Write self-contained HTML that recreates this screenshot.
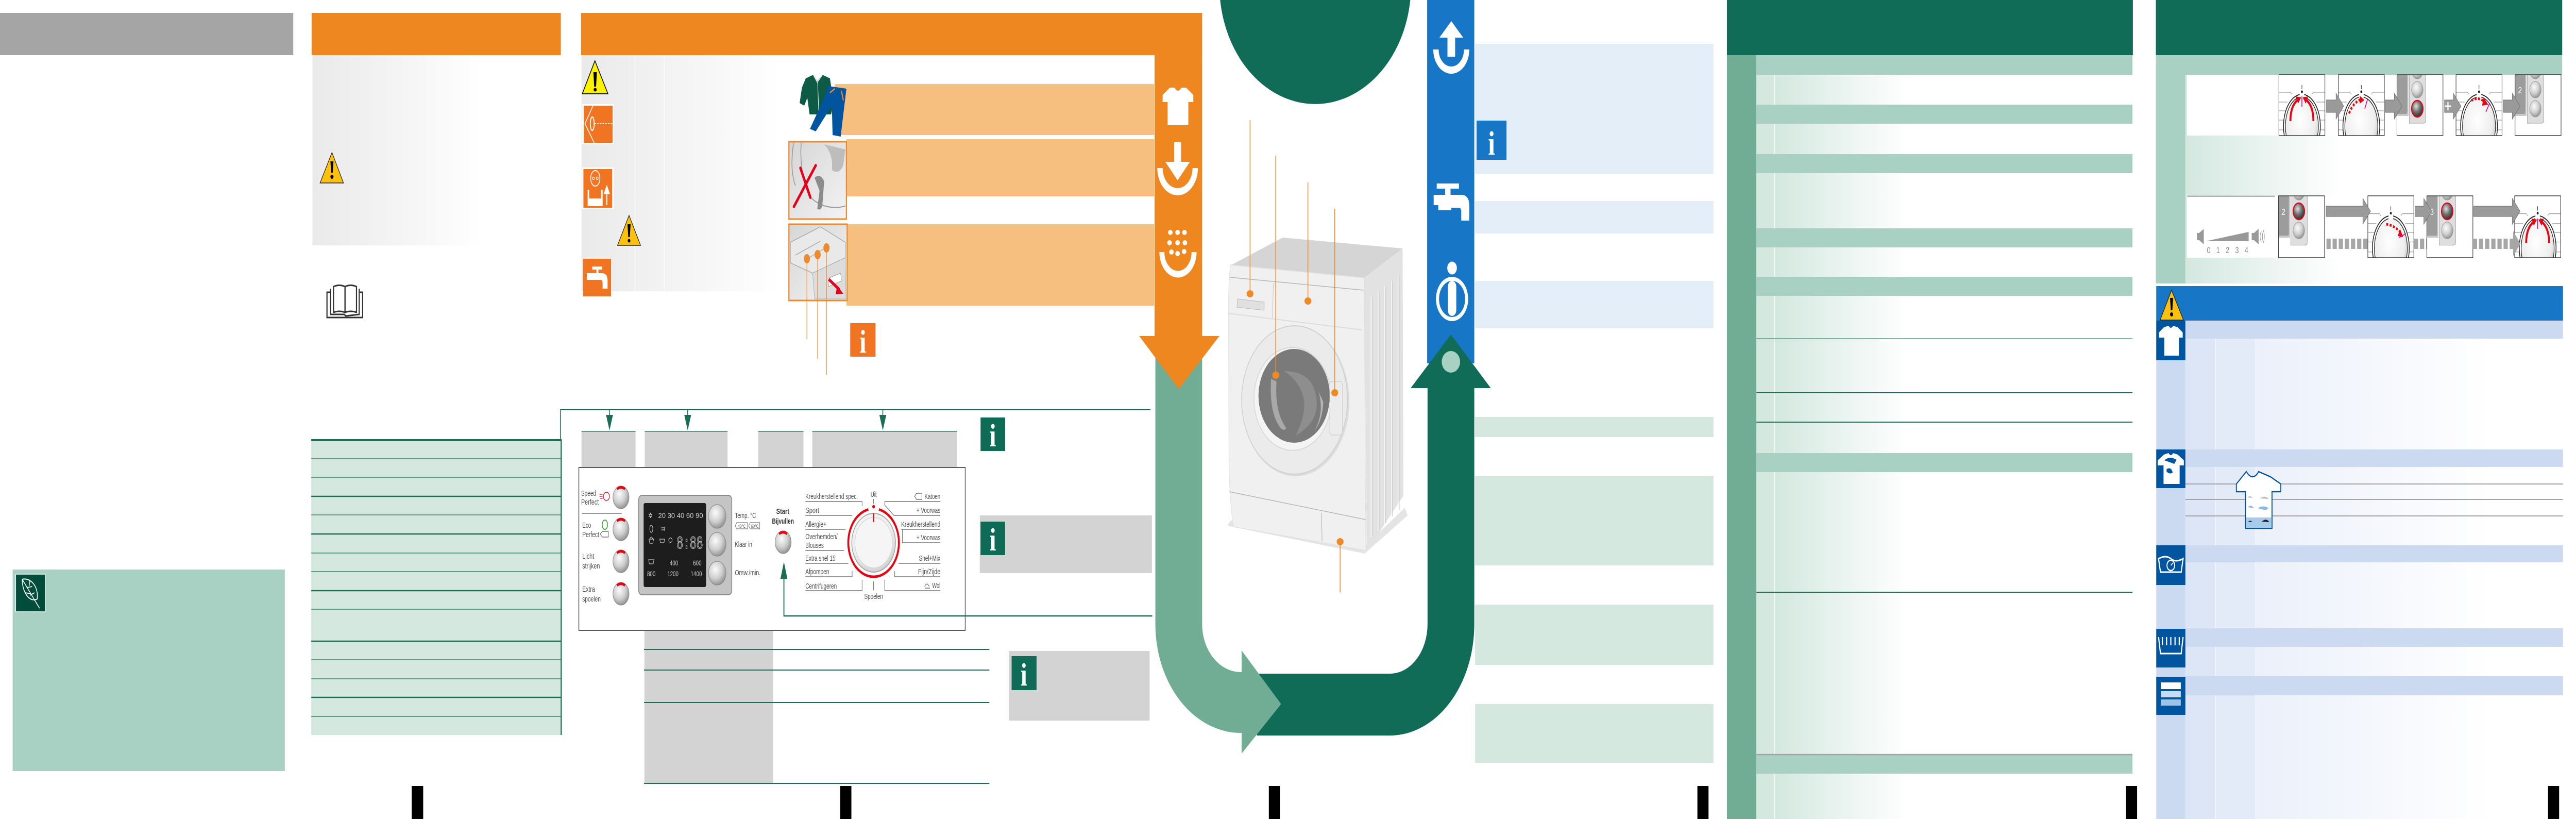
<!DOCTYPE html>
<html><head><meta charset="utf-8">
<style>
html,body{margin:0;padding:0;background:#fff;width:100%;height:100%;overflow:hidden}
svg{display:block;width:100vw;height:100vh;position:absolute;left:0;top:0}
.cp{font-family:"Liberation Sans",sans-serif;font-size:15px;fill:#4d4d4d}
.cpb{font-family:"Liberation Sans",sans-serif;font-size:15px;font-weight:bold;fill:#333}
.ld{font-family:"Liberation Sans",sans-serif;font-size:14px;fill:#cfcfcf}
.inf{font-family:"Liberation Serif",serif;font-weight:bold;fill:#fff}
</style></head>
<body>
<svg viewBox="0 0 6720 1589" preserveAspectRatio="none" xmlns="http://www.w3.org/2000/svg">
<defs>
 <linearGradient id="gGray" x1="0" x2="1" y1="0" y2="0">
  <stop offset="0" stop-color="#eaeaea"/><stop offset="0.35" stop-color="#f1f1f1"/><stop offset="0.7" stop-color="#f8f8f8"/><stop offset="1" stop-color="#ffffff"/>
 </linearGradient>
 <linearGradient id="gGreenFade" gradientUnits="userSpaceOnUse" x1="4630" x2="4980" y1="0" y2="0">
  <stop offset="0" stop-color="#d4e8e0"/><stop offset="1" stop-color="#ffffff"/>
 </linearGradient>
 <linearGradient id="gP7Fade" gradientUnits="userSpaceOnUse" x1="5701" x2="6110" y1="0" y2="0">
  <stop offset="0" stop-color="#d4e8e0"/><stop offset="1" stop-color="#ffffff"/>
 </linearGradient>
 <linearGradient id="gBlueFade" gradientUnits="userSpaceOnUse" x1="5884" x2="6500" y1="0" y2="0">
  <stop offset="0" stop-color="#ebf0fa"/><stop offset="1" stop-color="#ffffff"/>
 </linearGradient>
 <radialGradient id="gBtn" cx="0.4" cy="0.35" r="0.7">
  <stop offset="0" stop-color="#fbfbfb"/><stop offset="0.55" stop-color="#cfcfcf"/><stop offset="1" stop-color="#8a8a8a"/>
 </radialGradient>
 <radialGradient id="gBtnDark" cx="0.4" cy="0.35" r="0.7">
  <stop offset="0" stop-color="#e0e0e0"/><stop offset="0.5" stop-color="#707070"/><stop offset="1" stop-color="#2a2a2a"/>
 </radialGradient>
 <radialGradient id="gKnob" cx="0.45" cy="0.4" r="0.65">
  <stop offset="0" stop-color="#ffffff"/><stop offset="0.7" stop-color="#eeeeee"/><stop offset="1" stop-color="#c4c4c4"/>
 </radialGradient>
 <linearGradient id="gImg" x1="0" x2="1" y1="0" y2="1">
  <stop offset="0" stop-color="#d6d6d6"/><stop offset="1" stop-color="#f3f3f3"/>
 </linearGradient>
 <clipPath id="cbox"><rect x="0" y="0" width="120" height="118"/></clipPath>
 <g id="dialbase">
  <rect x="0" y="0" width="120" height="118" fill="#fff"/>
  <path d="M0,34 H30 L34,38 M0,53 H22 M0,70 H16 M0,88 H14 M0,107 H14 M120,34 H90 L86,38 M120,53 H98 M120,70 H104 M120,88 H106 M120,107 H106" stroke="#9a9a9a" stroke-width="1.2" fill="none"/>
  <g clip-path="url(#cbox)">
   <ellipse cx="60" cy="100" rx="48" ry="62" fill="#fff" stroke="#222" stroke-width="2"/>
   <ellipse cx="60" cy="100" rx="43" ry="57" fill="url(#gKnob)" stroke="#222" stroke-width="1.6"/>
  </g>
  <rect x="54" y="35" width="12" height="10" fill="#fff"/>
  <line x1="60" y1="20" x2="60" y2="28" stroke="#222" stroke-width="1.2"/>
  <circle cx="60" cy="33" r="2.6" fill="#222"/>
  <rect x="0" y="0" width="120" height="118" fill="none" stroke="#222" stroke-width="1.3"/>
 </g>
 <g id="btnbase">
  <rect x="0" y="0" width="120" height="118" fill="#fff"/>
  <g clip-path="url(#cbox)">
   <path d="M0,0 H30 V80 H0 Z" fill="#c8c8c8"/>
   <path d="M0,0 H27 V72 Q27,76 23,76 H0 Z" fill="#9c9c9c"/>
   <path d="M32,-2 H75 V88 Q75,94 69,94 H32 Z" fill="#dedede" stroke="#999" stroke-width="1"/>
   <ellipse cx="53" cy="-8" rx="15" ry="16" fill="url(#gBtn)" stroke="#999"/>
   <ellipse cx="53" cy="29" rx="15" ry="16" fill="url(#gBtn)" stroke="#999"/>
   <ellipse cx="53" cy="66" rx="15" ry="16" fill="url(#gBtn)" stroke="#999"/>
  </g>
  <rect x="0" y="0" width="120" height="118" fill="none" stroke="#222" stroke-width="1.3"/>
 </g>
 <g id="cpbtn">
  <ellipse cx="0" cy="0" rx="21" ry="22" fill="url(#gBtn)" stroke="#8a8a8a" stroke-width="1.2"/>
  <path d="M-12,-18 A21,22 0 0 1 12,-18 L9,-14 A16,16 0 0 0 -9,-14 Z" fill="#e30613"/>
 </g>
 <g id="cpbtn2">
  <ellipse cx="0" cy="0" rx="23" ry="23" fill="url(#gBtn)" stroke="#8a8a8a" stroke-width="1.2"/>
 </g>
</defs>

<rect x="0" y="0" width="6720" height="1589" fill="#fff"/>

<!-- ================= PANEL 1 ================= -->
<rect x="0" y="25" width="765" height="82" fill="#a6a5a5"/>
<rect x="33" y="1105" width="710" height="391" fill="#a8d0c3"/>
<rect x="41" y="1114" width="77" height="73" fill="#004d3c" stroke="#fff" stroke-width="1.5"/>
<path d="M58,1124 C80,1120 101,1138 97,1162 C78,1170 58,1150 58,1124 Z" fill="none" stroke="#fff" stroke-width="2"/>
<path d="M58,1124 L103,1180 M70,1140 L84,1138 M66,1150 L80,1152 M78,1155 L90,1150 M76,1137 L78,1126" stroke="#fff" stroke-width="1.8" fill="none"/>
<rect x="1074" y="1525" width="30" height="64" fill="#000"/>

<!-- ================= PANEL 2 ================= -->
<rect x="813" y="25" width="650" height="82" fill="#ee8720"/>
<rect x="815" y="107" width="440" height="369" fill="url(#gGray)"/>
<polygon points="866,296 835,355 896,355" fill="#fcc00f" stroke="#222" stroke-width="1.5"/>
<path d="M862,313 L870,313 L868,335 L864,335 Z" fill="#000"/><circle cx="866" cy="343" r="4" fill="#000"/>
<g fill="none" stroke="#333" stroke-width="3">
 <path d="M862,567 L853,567 L853,616 L946,616 L946,567 L937,567"/>
 <path d="M862,560 L862,610 L898,610 L902,613 L937,610 L937,560"/>
 <path d="M870,556 Q885,551 900,556 L900,606 Q885,602 870,606 Z"/>
 <path d="M900,556 Q915,551 930,556 L930,606 Q915,602 900,606 Z"/>
</g>
<rect x="812" y="853" width="651" height="573" fill="#d4e8e0"/>
<g stroke="#1a6e55" fill="none">
 <line x1="812" y1="854" x2="1465" y2="854" stroke-width="4"/>
 <g stroke-width="1.3">
  <line x1="812" y1="890" x2="1463" y2="890"/><line x1="812" y1="926" x2="1463" y2="926"/>
  <line x1="812" y1="999" x2="1463" y2="999"/><line x1="812" y1="1073" x2="1463" y2="1073"/>
  <line x1="812" y1="1109" x2="1463" y2="1109"/><line x1="812" y1="1182" x2="1463" y2="1182"/>
  <line x1="812" y1="1280" x2="1463" y2="1280"/><line x1="812" y1="1317" x2="1463" y2="1317"/>
  <line x1="812" y1="1390" x2="1463" y2="1390"/>
 </g>
 <g stroke-width="2.5">
  <line x1="812" y1="963" x2="1463" y2="963"/><line x1="812" y1="1036" x2="1463" y2="1036"/>
  <line x1="812" y1="1146" x2="1463" y2="1146"/><line x1="812" y1="1244" x2="1463" y2="1244"/>
  <line x1="812" y1="1353" x2="1463" y2="1353"/>
 </g>
 <line x1="1464" y1="853" x2="1464" y2="1426" stroke-width="3"/>
 <path d="M1462,853 L1462,795 L3001,795" stroke-width="2"/>
</g>

<!-- ================= PANEL 3 ================= -->
<rect x="1516" y="25" width="1620" height="82" fill="#ee8720"/>
<rect x="1517" y="107" width="520" height="458" fill="url(#gGray)"/>
<line x1="1656" y1="107" x2="1656" y2="565" stroke="#fafafa" stroke-width="2"/>
<line x1="1733" y1="107" x2="1733" y2="565" stroke="#fbfbfb" stroke-width="2"/>
<polygon points="1552,118 1519,182 1586,182" fill="#fff200" stroke="#111" stroke-width="2"/>
<path d="M1548,140 L1557,140 L1555,168 L1550,168 Z" fill="#000"/><ellipse cx="1552.5" cy="174" rx="4" ry="3.5" fill="#000"/>
<rect x="1519" y="202" width="82" height="78" fill="#fff"/>
<rect x="1523" y="205" width="75" height="72" fill="#f07422"/>
<path d="M1547,205 L1526,240 L1550,277" stroke="#fff" stroke-width="2" fill="none"/>
<ellipse cx="1545" cy="240" rx="5" ry="13" fill="none" stroke="#fff" stroke-width="2.5"/>
<line x1="1551" y1="240" x2="1598" y2="240" stroke="#fff" stroke-width="2" stroke-dasharray="4,3"/>
<rect x="1519" y="325" width="82" height="81" fill="#fff"/>
<rect x="1522" y="328" width="75" height="75" fill="#f07422"/>
<ellipse cx="1553" cy="346" rx="12" ry="15" fill="none" stroke="#fff" stroke-width="2"/>
<circle cx="1548" cy="346" r="2.5" fill="none" stroke="#fff" stroke-width="1.5"/><circle cx="1558" cy="346" r="2.5" fill="none" stroke="#fff" stroke-width="1.5"/>
<path d="M1533,368 H1537 V385 H1568 V368 H1572 V400 H1533 Z" fill="#fff"/>
<path d="M1583,398 V372 M1577,375 L1583,362 L1589,375 Z" stroke="#fff" stroke-width="3" fill="#fff"/>
<polygon points="1641,418 1611,476 1671,476" fill="#fcc00f" stroke="#222" stroke-width="1.5"/>
<path d="M1637,435 L1645,435 L1643,460 L1639,460 Z" fill="#000"/><circle cx="1641" cy="467" r="3.5" fill="#000"/>
<rect x="1521" y="502" width="73" height="73" fill="#f07422"/>
<path d="M1545,517 H1571 V523 H1561 V530 H1571 Q1585,530 1585,545 V560 H1572 V549 Q1572,543 1566,543 H1531 V530 H1556 V523 H1545 Z" fill="#fff"/>
<polygon points="2102,152 2122,145 2132,158 2145,145 2165,152 2175,200 2168,222 2112,222 2106,190 2098,205 2086,200 2092,170" fill="#0d5a45"/>
<path d="M2122,146 L2132,160 L2145,146 M2133,160 L2136,220" stroke="#fff" stroke-width="1.3" fill="none"/>
<rect x="2178" y="163" width="833" height="99" fill="#f6bf80"/>
<polygon points="2161,167 2208,172 2193,265 2172,262 2170,205 2128,255 2113,250 2150,190" fill="#0054a0"/>
<path d="M2165,180 L2178,172 M2195,176 L2200,195" stroke="#ee8720" stroke-width="3" fill="none"/>
<rect x="2208" y="270" width="803" height="111" fill="#f6bf80"/>
<rect x="2208" y="435" width="803" height="158" fill="#f6bf80"/>
<rect x="2058" y="275" width="150" height="150" fill="url(#gImg)" stroke="#ef8a2b" stroke-width="3"/>
<path d="M2070,278 Q2060,330 2075,360 M2090,278 Q2085,330 2110,380 Q2150,410 2205,400" stroke="#999" stroke-width="2" fill="none"/>
<path d="M2150,280 Q2175,300 2170,330 Q2190,340 2200,320 L2205,290 Z" fill="#bdbdbd"/>
<path d="M2125,345 Q2140,335 2150,352 L2145,400 Q2140,410 2132,405 L2138,370 Z" fill="#8c8c8c"/>
<path d="M2088,326 L2114,383 M2128,321 L2071,401" stroke="#e2001a" stroke-width="6" stroke-linecap="round"/>
<rect x="2058" y="435" width="152" height="148" fill="url(#gImg)" stroke="#ef8a2b" stroke-width="3"/>
<path d="M2062,470 L2140,440 L2205,470 L2205,500 L2120,530 L2062,510 Z" fill="#e9e9e9" stroke="#aaa" stroke-width="1.5"/>
<path d="M2075,495 L2140,468 M2100,505 L2160,478" stroke="#aaa" stroke-width="1.5"/>
<path d="M2120,530 L2205,500 L2207,580 L2125,580 Z" fill="#dcdcdc" stroke="#aaa"/>
<path d="M2160,540 L2193,530 L2195,545 L2162,556 Z" fill="#fff" stroke="#999"/>
<path d="M2162,542 L2190,562" stroke="#e2001a" stroke-width="6"/>
<polygon points="2184,554 2200,570 2180,571" fill="#e2001a"/>
<g stroke="#ef8a2b" stroke-width="1.6">
 <line x1="2105" y1="502" x2="2105" y2="658"/><line x1="2133" y1="494" x2="2133" y2="696"/><line x1="2156" y1="481" x2="2156" y2="728"/>
</g>
<g fill="#ef8a2b"><ellipse cx="2105" cy="502" rx="8" ry="9"/><ellipse cx="2133" cy="494" rx="8" ry="9"/><ellipse cx="2156" cy="481" rx="8" ry="9"/></g>
<rect x="2218" y="627" width="66" height="65" fill="#f07422"/>
<text x="2251" y="684" text-anchor="middle" class="inf" font-size="64">i</text>

<g stroke="#1a6e55" stroke-width="2">
 <line x1="1590" y1="795" x2="1590" y2="806"/><line x1="1794" y1="795" x2="1794" y2="806"/><line x1="2303" y1="795" x2="2303" y2="806"/>
</g>
<g fill="#1a6e55">
 <polygon points="1581,805 1599,805 1590,835"/><polygon points="1785,805 1803,805 1794,835"/><polygon points="2294,805 2312,805 2303,835"/>
</g>
<g fill="#d3d3d3">
 <rect x="1517" y="836" width="141" height="71"/><rect x="1682" y="836" width="216" height="71"/>
 <rect x="1978" y="836" width="118" height="71"/><rect x="2119" y="836" width="378" height="71"/>
</g>
<g stroke="#5e9e88" stroke-width="2">
 <line x1="1517" y1="837" x2="1658" y2="837"/><line x1="1682" y1="837" x2="1898" y2="837"/>
 <line x1="1978" y1="837" x2="2096" y2="837"/><line x1="2119" y1="837" x2="2497" y2="837"/>
</g>
<rect x="1681" y="1223" width="336" height="297" fill="#d3d3d3"/>
<g stroke="#1a6e55" stroke-width="2">
 <line x1="1680" y1="1260" x2="2581" y2="1260"/><line x1="1680" y1="1300" x2="2581" y2="1300"/>
 <line x1="1680" y1="1363" x2="2581" y2="1363"/><line x1="1680" y1="1520" x2="2581" y2="1520"/>
</g>
<rect x="1510" y="907" width="1008" height="316" fill="#fff" stroke="#5a5a5a" stroke-width="2"/>
<use href="#cpbtn" x="1620" y="965"/><use href="#cpbtn" x="1620" y="1027"/>
<use href="#cpbtn" x="1620" y="1089"/><use href="#cpbtn" x="1620" y="1152"/>
<text class="cp" x="1516" y="962" textLength="39" lengthAdjust="spacingAndGlyphs">Speed</text>
<text class="cp" x="1516" y="979" textLength="46" lengthAdjust="spacingAndGlyphs">Perfect</text>
<path d="M1564,959 H1572 M1564,963 H1572 M1566,967 H1572" stroke="#e30613" stroke-width="1.2"/>
<ellipse cx="1582" cy="963" rx="8" ry="8" fill="none" stroke="#e30613" stroke-width="1.5"/>
<line x1="1518" y1="996" x2="1622" y2="996" stroke="#777" stroke-width="1.5"/>
<text class="cp" x="1519" y="1024" textLength="23" lengthAdjust="spacingAndGlyphs">Eco</text>
<text class="cp" x="1519" y="1042" textLength="44" lengthAdjust="spacingAndGlyphs">Perfect</text>
<ellipse cx="1578" cy="1018" rx="7" ry="9" fill="none" stroke="#3aaa35" stroke-width="2"/>
<path d="M1566,1036 L1571,1031 H1587 V1042 H1571 Z" fill="none" stroke="#555" stroke-width="1.2"/>
<text class="cp" x="1519" y="1084" textLength="31" lengthAdjust="spacingAndGlyphs">Licht</text>
<text class="cp" x="1519" y="1103" textLength="46" lengthAdjust="spacingAndGlyphs">strijken</text>
<text class="cp" x="1519" y="1148" textLength="33" lengthAdjust="spacingAndGlyphs">Extra</text>
<text class="cp" x="1519" y="1167" textLength="48" lengthAdjust="spacingAndGlyphs">spoelen</text>
<rect x="1666" y="961" width="243" height="193" rx="9" fill="#c4c4c4" stroke="#8a8a8a" stroke-width="2"/>
<rect x="1679" y="976" width="163" height="163" rx="4" fill="#1d1d1d"/>
<text class="ld" x="1691" y="1005" font-size="15">✲</text>
<text class="ld" x="1717" y="1005" textLength="117" lengthAdjust="spacingAndGlyphs">20 30 40 60 90</text>
<ellipse cx="1699" cy="1026" rx="4" ry="7" fill="none" stroke="#ccc" stroke-width="1.2"/>
<path d="M1725,1024 h8 m-8,4 h8 M1733,1022 v8" stroke="#ccc" stroke-width="1.2"/>
<path d="M1693,1046 L1705,1046 L1703,1054 L1695,1054 Z M1695,1046 Q1699,1038 1703,1046" fill="none" stroke="#ccc" stroke-width="1.2"/>
<path d="M1721,1046 H1734 L1732,1053 H1723 Z" fill="none" stroke="#ccc" stroke-width="1.2"/>
<circle cx="1749" cy="1048" r="4.5" fill="none" stroke="#ccc" stroke-width="1.2"/>
<text x="1765" y="1064" font-family="Liberation Mono,monospace" font-size="34" fill="none" stroke="#cfcfcf" stroke-width="1.2" textLength="69" lengthAdjust="spacingAndGlyphs">8:88</text>
<path d="M1692,1086 H1706 L1704,1094 H1694 Z" fill="none" stroke="#ccc" stroke-width="1.2"/>
<text class="ld" x="1747" y="1097" textLength="22" lengthAdjust="spacingAndGlyphs">400</text>
<text class="ld" x="1808" y="1097" textLength="22" lengthAdjust="spacingAndGlyphs">600</text>
<text class="ld" x="1688" y="1118" textLength="22" lengthAdjust="spacingAndGlyphs">800</text>
<text class="ld" x="1741" y="1118" textLength="29" lengthAdjust="spacingAndGlyphs">1200</text>
<text class="ld" x="1802" y="1118" textLength="29" lengthAdjust="spacingAndGlyphs">1400</text>
<use href="#cpbtn2" x="1871" y="1002"/><use href="#cpbtn2" x="1871" y="1056"/><use href="#cpbtn2" x="1871" y="1112"/>
<text class="cp" x="1917" y="1005" textLength="55" lengthAdjust="spacingAndGlyphs">Temp. °C</text>
<path d="M1918,1020 L1922,1014 H1950 V1026 H1922 Z M1953,1020 L1957,1014 H1982 V1026 H1957 Z" fill="none" stroke="#555" stroke-width="1"/>
<text x="1925" y="1024" font-family="Liberation Sans,sans-serif" font-size="9" fill="#555">40°C</text>
<text x="1959" y="1024" font-family="Liberation Sans,sans-serif" font-size="9" fill="#555">60°C</text>
<text class="cp" x="1917" y="1061" textLength="45" lengthAdjust="spacingAndGlyphs">Klaar in</text>
<text class="cp" x="1917" y="1116" textLength="67" lengthAdjust="spacingAndGlyphs">Omw./min.</text>
<text class="cpb" x="2025" y="997" textLength="34" lengthAdjust="spacingAndGlyphs">Start</text>
<text class="cpb" x="2014" y="1016" textLength="57" lengthAdjust="spacingAndGlyphs">Bijvullen</text>
<use href="#cpbtn" x="2043" y="1052"/>
<path d="M2045,1122 V1195 H3006" stroke="#1a6e55" stroke-width="2.5" fill="none"/>
<polygon points="2036,1123 2054,1123 2045,1090" fill="#1a6e55"/>
<path d="M2292.7,988.4 A66,66 0 1 1 2265.3,988.4" fill="none" stroke="#e30613" stroke-width="5"/>
<circle cx="2279" cy="1053" r="57" fill="url(#gKnob)" stroke="#a8a8a8" stroke-width="2"/>
<circle cx="2279" cy="1053" r="49" fill="#f5f5f5" stroke="#d5d5d5" stroke-width="1.5"/>
<circle cx="2279" cy="983" r="3.5" fill="#e30613"/>
<line x1="2279" y1="996" x2="2279" y2="1013" stroke="#e30613" stroke-width="3"/>
<line x1="2279" y1="968" x2="2279" y2="977" stroke="#555" stroke-width="1.2"/>
<line x1="2279" y1="1128" x2="2279" y2="1145" stroke="#555" stroke-width="1.2"/>
<text class="cp" x="2279" y="964" text-anchor="middle" textLength="16" lengthAdjust="spacingAndGlyphs">Uit</text>
<text class="cp" x="2279" y="1162" text-anchor="middle" textLength="49" lengthAdjust="spacingAndGlyphs">Spoelen</text>
<g stroke="#777" stroke-width="1.4" fill="none">
 <path d="M2101,973 H2249 V982"/><path d="M2101,1000 H2223"/><path d="M2101,1027 H2206"/>
 <path d="M2101,1068 H2202"/><path d="M2101,1093 H2213"/><path d="M2101,1119 H2223 V1108"/>
 <path d="M2101,1146 H2249 V1125"/>
 <path d="M2453,973 H2308 V980 L2332,1000 H2453"/><path d="M2453,1027 H2351 M2354,1027 V1053 H2453"/>
 <path d="M2453,1093 H2344"/><path d="M2453,1119 H2334 V1108"/><path d="M2453,1146 H2308 V1125"/>
</g>
<text class="cp" x="2101" y="968" textLength="137" lengthAdjust="spacingAndGlyphs">Kreukherstellend spec.</text>
<text class="cp" x="2101" y="995" textLength="36" lengthAdjust="spacingAndGlyphs">Sport</text>
<text class="cp" x="2101" y="1022" textLength="55" lengthAdjust="spacingAndGlyphs">Allergie+</text>
<text class="cp" x="2101" y="1046" textLength="84" lengthAdjust="spacingAndGlyphs">Overhemden/</text>
<text class="cp" x="2101" y="1063" textLength="48" lengthAdjust="spacingAndGlyphs">Blouses</text>
<text class="cp" x="2101" y="1088" textLength="81" lengthAdjust="spacingAndGlyphs">Extra snel 15'</text>
<text class="cp" x="2101" y="1114" textLength="62" lengthAdjust="spacingAndGlyphs">Afpompen</text>
<text class="cp" x="2101" y="1142" textLength="82" lengthAdjust="spacingAndGlyphs">Centrifugeren</text>
<text class="cp" x="2453" y="968" text-anchor="end" textLength="41" lengthAdjust="spacingAndGlyphs">Katoen</text>
<path d="M2386,963 L2391,957 H2405 V969 H2391 Z" fill="none" stroke="#555" stroke-width="1.2"/>
<text class="cp" x="2453" y="995" text-anchor="end" textLength="62" lengthAdjust="spacingAndGlyphs">+ Voorwas</text>
<text class="cp" x="2453" y="1022" text-anchor="end" textLength="102" lengthAdjust="spacingAndGlyphs">Kreukherstellend</text>
<text class="cp" x="2453" y="1048" text-anchor="end" textLength="62" lengthAdjust="spacingAndGlyphs">+ Voorwas</text>
<text class="cp" x="2453" y="1088" text-anchor="end" textLength="56" lengthAdjust="spacingAndGlyphs">Snel+Mix</text>
<text class="cp" x="2453" y="1114" text-anchor="end" textLength="58" lengthAdjust="spacingAndGlyphs">Fijn/Zijde</text>
<text class="cp" x="2453" y="1141" text-anchor="end" textLength="21" lengthAdjust="spacingAndGlyphs">Wol</text>
<path d="M2412,1138 Q2418,1128 2424,1138 M2413,1141 H2426" fill="none" stroke="#555" stroke-width="1.2"/>
<rect x="2558" y="810" width="64" height="65" fill="#0f6b55"/>
<text x="2590" y="866" text-anchor="middle" class="inf" font-size="62">i</text>
<rect x="2556" y="1000" width="449" height="112" fill="#d3d3d3"/>
<rect x="2558" y="1012" width="64" height="65" fill="#0f6b55"/>
<text x="2590" y="1068" text-anchor="middle" class="inf" font-size="62">i</text>
<rect x="2632" y="1263" width="367" height="135" fill="#d3d3d3"/>
<rect x="2639" y="1273" width="65" height="66" fill="#0f6b55"/>
<text x="2671" y="1330" text-anchor="middle" class="inf" font-size="62">i</text>
<rect x="2192" y="1525" width="29" height="64" fill="#000"/>

<!-- ================= CENTER FLOW ================= -->
<path d="M3183,0 A250,231 0 0 0 3679,0 Z" fill="#106b57"/>
<rect x="3723" y="0" width="123" height="705" fill="#1777c6"/>
<path d="M3279,1307 L3626,1307 A98,96 0 0 0 3724,1211 L3724,753 L3680,753 L3785,649 L3889,753 L3846,753 L3846,1211 A220,216 0 0 1 3626,1427 L3279,1427 Z" fill="#106b57"/>
<ellipse cx="3785" cy="702" rx="24" ry="21" fill="#a8d0c3"/>
<path d="M3014,650 L3136,650 L3136,1211 A101,93 0 0 0 3237,1304 L3239,1304 L3239,1262 L3342,1366 L3239,1462 L3239,1422 L3237,1422 A223,211 0 0 1 3014,1211 Z" fill="#70ad94"/>
<rect x="3012" y="100" width="124" height="555" fill="#ee8720"/>
<polygon points="2972,652 3181,652 3075,755" fill="#ee8720"/>
<path d="M3052,170 L3064,170 Q3073,182 3082,170 L3094,170 L3113,184 L3113,198 L3100,198 L3100,243 L3046,243 L3046,198 L3033,198 L3033,184 Z" fill="#fff"/>
<path d="M3026,326 A46,46 0 0 0 3118,326" stroke="#fff" stroke-width="14" fill="none"/>
<rect x="3063" y="276" width="18" height="40" fill="#fff"/>
<polygon points="3040,314 3104,314 3072,350" fill="#fff"/>
<path d="M3031,489 A42,43 0 0 0 3115,489" stroke="#fff" stroke-width="13" fill="none"/>
<g fill="#fff">
 <ellipse cx="3053" cy="451" rx="6" ry="5"/><ellipse cx="3072" cy="451" rx="6" ry="5"/><ellipse cx="3090" cy="451" rx="6" ry="5"/>
 <ellipse cx="3051" cy="471" rx="6" ry="5"/><ellipse cx="3072" cy="471" rx="6" ry="5"/><ellipse cx="3091" cy="471" rx="6" ry="5"/>
 <ellipse cx="3056" cy="489" rx="6" ry="5"/><ellipse cx="3072" cy="492" rx="6" ry="5"/><ellipse cx="3089" cy="488" rx="6" ry="5"/>
</g>
<path d="M3746,96 A40,40 0 0 0 3826,96" stroke="#fff" stroke-width="14" fill="none"/>
<polygon points="3786,41 3817,73 3755,73" fill="#fff"/>
<rect x="3776" y="72" width="20" height="38" fill="#fff"/>
<rect x="3748" y="356" width="58" height="10" fill="#fff"/>
<rect x="3770" y="364" width="14" height="16" fill="#fff"/>
<path d="M3740,378 H3812 Q3833,378 3833,400 V428 H3812 V410 Q3812,403 3805,403 H3786 V408 H3752 V398 H3740 Z" fill="#fff"/>
<ellipse cx="3788" cy="580" rx="38" ry="39" stroke="#fff" stroke-width="8" fill="none"/>
<circle cx="3788" cy="520" r="15" fill="#fff" stroke="#1777c6" stroke-width="5"/>
<rect x="3777" y="545" width="22" height="68" rx="11" fill="#fff"/>

<!-- washing machine -->
<path d="M3202,1020 L3560,1074 L3672,1000 L3665,985 L3560,1060 L3210,1010 Z" fill="#e4e4e4"/>
<polygon points="3212,514 3346,461 3659,482 3559,539" fill="#d5d5d5"/>
<polygon points="3559,539 3659,482 3661,962 3565,1070" fill="#e2e2e2"/>
<g stroke-width="2">
 <line x1="3577" y1="575" x2="3577" y2="1042" stroke="#f7f7f7"/><line x1="3580" y1="575" x2="3580" y2="1040" stroke="#cfcfcf"/>
 <line x1="3595" y1="565" x2="3595" y2="1030" stroke="#f7f7f7"/><line x1="3598" y1="565" x2="3598" y2="1028" stroke="#cfcfcf"/>
 <line x1="3612" y1="555" x2="3612" y2="1017" stroke="#f7f7f7"/><line x1="3615" y1="555" x2="3615" y2="1015" stroke="#cfcfcf"/>
 <line x1="3630" y1="545" x2="3630" y2="1004" stroke="#f7f7f7"/><line x1="3633" y1="545" x2="3633" y2="1002" stroke="#cfcfcf"/>
 <line x1="3647" y1="535" x2="3647" y2="991" stroke="#f7f7f7"/><line x1="3650" y1="535" x2="3650" y2="989" stroke="#cfcfcf"/>
</g>
<path d="M3210,514 L3559,539 L3563,1068 L3217,1022 Q3207,960 3206,900 L3205,600 Q3205,540 3210,514 Z" fill="#f0f0f0" stroke="#e0e0e0" stroke-width="1.5"/>
<line x1="3209" y1="538" x2="3557" y2="563" stroke="#b5b5b5" stroke-width="1.5"/>
<line x1="3205" y1="608" x2="3553" y2="640" stroke="#dcdcdc" stroke-width="2"/>
<line x1="3322" y1="549" x2="3319" y2="617" stroke="#cdcdcd" stroke-width="1.5"/>
<polygon points="3228,580 3298,586 3298,602 3227,596" fill="#e0e0e0" stroke="#b8b8b8"/>
<ellipse cx="3380" cy="779" rx="140" ry="145" fill="#dcdcdc"/>
<ellipse cx="3377" cy="776" rx="138" ry="144" fill="#ebebeb" stroke="#d0d0d0" stroke-width="2"/>
<ellipse cx="3372" cy="774" rx="101" ry="100" fill="#f4f4f4" stroke="#d8d8d8" stroke-width="2"/>
<ellipse cx="3376" cy="768" rx="93" ry="91" fill="#7a7a7a"/>
<path d="M3316,735 Q3310,800 3340,830 Q3352,838 3355,830 Q3325,800 3330,740 Z" fill="#a9a9a9"/>
<path d="M3350,720 Q3430,720 3435,780 Q3438,820 3380,845 Q3410,800 3400,770 Q3390,740 3350,720 Z" fill="#8e8e8e"/>
<path d="M3440,760 Q3455,800 3430,835 Q3450,815 3452,780 Z" fill="#b5b5b5"/>
<rect x="3469" y="740" width="33" height="104" rx="6" fill="#ececec" stroke="#c8c8c8"/>
<line x1="3207" y1="954" x2="3562" y2="1008" stroke="#b5b5b5" stroke-width="1.5"/>
<line x1="3447" y1="995" x2="3449" y2="1050" stroke="#b5b5b5" stroke-width="1.5"/>
<g stroke="#f08a24" stroke-width="2">
 <line x1="3261" y1="233" x2="3261" y2="570"/><line x1="3328" y1="302" x2="3328" y2="728"/>
 <line x1="3412" y1="354" x2="3412" y2="584"/><line x1="3482" y1="405" x2="3482" y2="762"/>
 <line x1="3496" y1="1051" x2="3496" y2="1149"/>
</g>
<g fill="#f08a24">
 <ellipse cx="3261" cy="570" rx="9" ry="7"/><ellipse cx="3328" cy="728" rx="9" ry="7"/>
 <ellipse cx="3412" cy="584" rx="9" ry="7"/><ellipse cx="3482" cy="762" rx="9" ry="7"/>
 <ellipse cx="3496" cy="1051" rx="9" ry="7"/>
</g>
<rect x="3310" y="1525" width="29" height="64" fill="#000"/>

<!-- ================= PANEL 5 ================= -->
<g fill="#e4eef9">
 <rect x="3848" y="85" width="622" height="252"/><rect x="3848" y="390" width="622" height="63"/><rect x="3848" y="545" width="622" height="92"/>
</g>
<rect x="3852" y="234" width="78" height="76" fill="#1777c6"/>
<text x="3891" y="300" text-anchor="middle" class="inf" font-size="66">i</text>
<g fill="#d4e8e0">
 <rect x="3848" y="809" width="622" height="39"/><rect x="3848" y="924" width="622" height="173"/>
 <rect x="3848" y="1173" width="622" height="117"/><rect x="3848" y="1366" width="622" height="114"/>
</g>
<rect x="4428" y="1525" width="29" height="64" fill="#000"/>

<!-- ================= PANEL 6 ================= -->
<rect x="4505" y="0" width="1059" height="107" fill="#106b57"/>
<rect x="4505" y="107" width="77" height="1482" fill="#70ad94"/>
<rect x="4582" y="107" width="47" height="1482" fill="#d4e8e0"/>
<rect x="4630" y="107" width="934" height="1482" fill="url(#gGreenFade)"/>
<line x1="4629.5" y1="107" x2="4629.5" y2="1589" stroke="#fff" stroke-width="1.5"/>
<g fill="#a8d0c3">
 <rect x="4582" y="107" width="981" height="38"/><rect x="4582" y="203" width="981" height="37"/>
 <rect x="4582" y="299" width="981" height="37"/><rect x="4582" y="443" width="981" height="37"/>
 <rect x="4582" y="537" width="981" height="37"/><rect x="4582" y="879" width="981" height="37"/>
 <rect x="4582" y="1465" width="981" height="36"/>
</g>
<line x1="4582" y1="1464" x2="5563" y2="1464" stroke="#a3a3a3" stroke-width="2.5"/>
<line x1="4582" y1="657" x2="5563" y2="657" stroke="#5b9c88" stroke-width="1.5"/>
<g stroke="#1a6e55" stroke-width="2">
 <line x1="4582" y1="762" x2="5563" y2="762"/><line x1="4582" y1="819" x2="5563" y2="819"/><line x1="4582" y1="1149" x2="5563" y2="1149"/>
</g>
<rect x="5546" y="1525" width="29" height="64" fill="#000"/>

<!-- ================= PANEL 7 ================= -->
<rect x="5624" y="0" width="1060" height="107" fill="#106b57"/>
<rect x="5624" y="107" width="1060" height="38" fill="#a8d0c3"/>
<rect x="5624" y="145" width="77" height="405" fill="#a8d0c3"/>
<rect x="5701" y="263" width="420" height="117" fill="url(#gP7Fade)"/>
<rect x="5701" y="500" width="420" height="50" fill="url(#gP7Fade)"/>
<rect x="5701" y="145" width="4" height="118" fill="#d4e8e0"/>
<rect x="5701" y="380" width="4" height="120" fill="#d4e8e0"/>
<rect x="5705" y="380" width="230" height="120" fill="#fff"/>
<line x1="5706" y1="380.5" x2="5935" y2="380.5" stroke="#222" stroke-width="1.3"/>
<polygon points="5731,452 5737,452 5749,444 5749,474 5737,466 5731,466" fill="#999"/>
<polygon points="5754,468 5866,450 5866,468" fill="#999"/>
<polygon points="5874,452 5880,452 5892,444 5892,474 5880,466 5874,466" fill="#999"/>
<path d="M5896,451 Q5900,459 5896,467 M5900,448 Q5905,459 5900,470 M5904,446 Q5910,459 5904,472" stroke="#999" stroke-width="1.4" fill="none"/>
<text x="5757" y="491" font-family="Liberation Sans,sans-serif" font-size="17" fill="#888" textLength="108" lengthAdjust="spacing">0 1 2 3 4</text>
<g transform="translate(5945,145)"><use href="#dialbase"/>
 <path d="M30,90 Q30,60 50,48" stroke="#e30613" stroke-width="5" fill="none"/><polygon points="44,42 58,44 50,56" fill="#e30613"/>
 <path d="M90,90 Q90,60 70,48" stroke="#e30613" stroke-width="5" fill="none"/><polygon points="76,42 62,44 70,56" fill="#e30613"/>
 <line x1="60" y1="42" x2="60" y2="62" stroke="#e6007e" stroke-width="2"/>
</g>
<g transform="translate(6100,145)"><use href="#dialbase"/>
 <path d="M28,75 Q38,55 58,48" stroke="#e30613" stroke-width="5" fill="none" stroke-dasharray="5,4"/>
 <polygon points="56,41 68,49 56,56" fill="#e30613"/>
 <line x1="76" y1="48" x2="69" y2="66" stroke="#e6007e" stroke-width="2"/>
</g>
<g transform="translate(6253,145)"><use href="#btnbase"/>
 <ellipse cx="53" cy="66" rx="15" ry="16" fill="url(#gBtnDark)" stroke="#e30613" stroke-width="2.5"/>
</g>
<g transform="translate(6407,145)"><use href="#dialbase"/>
 <path d="M40,50 Q58,42 74,52" stroke="#e30613" stroke-width="5" fill="none" stroke-dasharray="5,4"/>
 <polygon points="72,44 84,58 68,60" fill="#e30613"/>
 <line x1="88" y1="55" x2="78" y2="72" stroke="#e6007e" stroke-width="2"/>
</g>
<g transform="translate(6561,145)"><use href="#btnbase"/>
 <text x="13" y="36" font-family="Liberation Sans,sans-serif" font-size="18" fill="#fff" text-anchor="middle">2</text>
</g>
<g fill="#9a9a9a" stroke="#6d6d6d" stroke-width="1">
 <polygon points="6069,194 6094,194 6094,181 6114,206 6094,231 6094,218 6069,218"/>
 <polygon points="6222,194 6246,194 6246,181 6266,206 6246,231 6246,218 6222,218"/>
 <polygon points="6377,194 6400,194 6400,181 6420,206 6400,231 6400,218 6377,218"/>
 <polygon points="6531,194 6554,194 6554,181 6574,206 6554,231 6554,218 6531,218"/>
</g>
<path d="M6386,198 V214 M6378,206 H6394" stroke="#fff" stroke-width="3"/>
<g transform="translate(5944,380)"><use href="#btnbase" transform="scale(1,1.017)"/>
 <ellipse cx="53" cy="30" rx="15" ry="16" fill="url(#gBtnDark)" stroke="#e30613" stroke-width="2.5"/>
 <text x="13" y="37" font-family="Liberation Sans,sans-serif" font-size="18" fill="#fff" text-anchor="middle">2</text>
</g>
<g transform="translate(6177,380)"><use href="#dialbase" transform="scale(1,1.017)"/>
 <path d="M48,55 Q72,58 86,72" stroke="#e30613" stroke-width="5" fill="none" stroke-dasharray="5,4"/>
 <polygon points="84,64 92,80 78,78" fill="#e30613"/>
 <line x1="99" y1="73" x2="82" y2="81" stroke="#e6007e" stroke-width="2"/>
</g>
<g transform="translate(6331,380)"><use href="#btnbase" transform="scale(1,1.017)"/>
 <ellipse cx="53" cy="30" rx="15" ry="16" fill="url(#gBtnDark)" stroke="#e30613" stroke-width="2.5"/>
 <text x="13" y="37" font-family="Liberation Sans,sans-serif" font-size="18" fill="#fff" text-anchor="middle">3</text>
</g>
<g transform="translate(6560,380)"><use href="#dialbase" transform="scale(1,1.017)"/>
 <path d="M30,92 Q30,62 50,50" stroke="#e30613" stroke-width="5" fill="none"/><polygon points="44,44 58,46 50,58" fill="#e30613"/>
 <path d="M90,92 Q90,62 70,50" stroke="#e30613" stroke-width="5" fill="none"/><polygon points="76,44 62,46 70,58" fill="#e30613"/>
 <line x1="60" y1="44" x2="60" y2="64" stroke="#e6007e" stroke-width="2"/>
</g>
<g stroke="#a6a6a6" stroke-width="20">
 <line x1="6069" y1="473" x2="6176" y2="473" stroke-dasharray="11,5"/>
 <line x1="6297" y1="473" x2="6330" y2="473" stroke-dasharray="11,5"/>
 <line x1="6451" y1="473" x2="6556" y2="473" stroke-dasharray="11,5"/>
</g>
<polygon points="6556,448 6575,473 6556,497" fill="#a6a6a6"/>
<g fill="#9a9a9a" stroke="#6d6d6d" stroke-width="1">
 <polygon points="6068,400 6164,400 6164,385 6184,410 6164,435 6164,420 6068,420"/>
 <polygon points="6300,400 6323,400 6323,385 6343,410 6323,435 6323,420 6300,420"/>
 <polygon points="6453,400 6554,400 6554,385 6574,410 6554,435 6554,420 6453,420"/>
</g>
<rect x="5625" y="622" width="76" height="967" fill="#cbd9f1"/>
<rect x="5701" y="622" width="78" height="967" fill="#dce6f6"/>
<rect x="5779" y="622" width="105" height="967" fill="#e4ebf8"/>
<rect x="5884" y="622" width="802" height="967" fill="url(#gBlueFade)"/>
<line x1="5779" y1="622" x2="5779" y2="1589" stroke="#f3f6fc" stroke-width="2"/>
<line x1="5884" y1="622" x2="5884" y2="1589" stroke="#f3f6fc" stroke-width="2"/>
<g fill="#cbd9f1">
 <rect x="5701" y="622" width="985" height="35"/><rect x="5701" y="872" width="985" height="34"/>
 <rect x="5701" y="1058" width="985" height="33"/><rect x="5701" y="1219" width="985" height="36"/>
 <rect x="5701" y="1312" width="985" height="37"/>
</g>
<g stroke="#a3a3a3" stroke-width="2">
 <line x1="5701" y1="939" x2="6686" y2="939"/><line x1="5701" y1="969" x2="6686" y2="969"/><line x1="5701" y1="1001" x2="6686" y2="1001"/>
</g>
<rect x="5625" y="555" width="1061" height="67" fill="#1777c6"/>
<g fill="#0054a0">
 <rect x="5625" y="622" width="76" height="77"/><rect x="5625" y="872" width="76" height="75"/>
 <rect x="5625" y="1058" width="76" height="77"/><rect x="5625" y="1220" width="76" height="75"/>
 <rect x="5625" y="1313" width="76" height="74"/>
</g>
<polygon points="5665,563 5635,621 5696,621" fill="#fcc00f" stroke="#222" stroke-width="1.5"/>
<path d="M5661,578 L5669,578 L5667,602 L5663,602 Z" fill="#000"/><circle cx="5665" cy="610" r="4" fill="#000"/>
<path d="M5645,635 L5657,632 Q5663,640 5669,632 L5681,635 L5694,645 L5694,655 L5684,655 L5684,690 L5646,690 L5646,655 L5632,655 L5632,645 Z" fill="#fff"/>
<path d="M5645,882 L5657,879 Q5663,887 5669,879 L5681,882 L5697,893 L5697,903 L5686,903 L5686,939 L5644,939 L5644,903 L5629,903 L5629,893 Z" fill="#fff"/>
<path d="M5646,893 Q5660,884 5678,892 L5672,900 Z M5652,910 Q5664,905 5668,917 Q5660,921 5652,915 Z" fill="#0054a0"/>
<path d="M5631,1084 Q5650,1076 5663,1084 Q5676,1092 5695,1084 L5690,1110 H5636 Z" fill="none" stroke="#fff" stroke-width="3"/>
<circle cx="5663" cy="1097" r="10" fill="none" stroke="#fff" stroke-width="2.5"/>
<path d="M5663,1097 L5669,1092" stroke="#fff" stroke-width="2"/>
<path d="M5631,1236 L5636,1268 H5690 L5695,1236" fill="none" stroke="#fff" stroke-width="3"/>
<path d="M5641,1236 V1252 M5652,1236 V1252 M5663,1236 V1252 M5674,1236 V1252 M5685,1236 V1252" stroke="#fff" stroke-width="3"/>
<rect x="5637" y="1324" width="52" height="13" fill="#fff"/>
<rect x="5637" y="1341" width="52" height="12" fill="#c5dcf2"/>
<rect x="5637" y="1357" width="52" height="12" fill="#9dc3e6"/>
<path d="M5860,915 Q5868,925 5876,925 Q5885,925 5892,915 L5923,925 L5950,939 L5950,954 L5927,954 L5927,1025 L5858,1025 L5858,954 L5834,954 L5834,939 Z" fill="#fff" stroke="#0054a0" stroke-width="2.5"/>
<rect x="5859" y="1004" width="67" height="20" fill="#a8cbea"/>
<path d="M5863,965 Q5870,960 5876,966 Z M5895,967 Q5910,960 5918,968 Z" fill="#bdbdbd"/>
<path d="M5864,984 Q5872,978 5880,986 Z M5890,986 Q5905,979 5918,986 L5910,990 Z" fill="#8ab8e3"/>
<path d="M5865,1012 Q5870,1008 5876,1013 Z M5900,1012 Q5912,1004 5920,1013 Z" fill="#222"/>
<rect x="6647" y="1525" width="29" height="64" fill="#000"/>
</svg>
</body></html>
